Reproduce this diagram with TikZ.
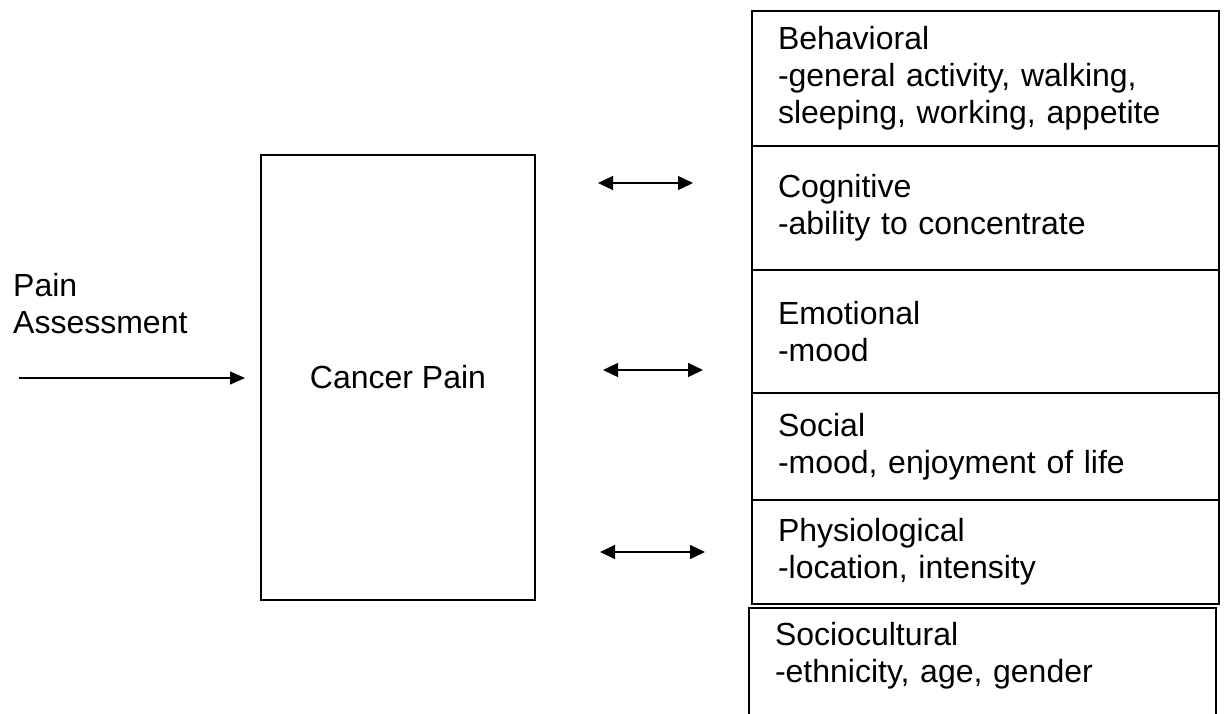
\documentclass[tikz,border=0pt]{standalone}
\usepackage{fontspec}
\setmainfont{Liberation Sans}
\usetikzlibrary{arrows.meta}
\newcommand{\bigtxt}{\fontsize{32}{37}\selectfont}

\begin{document}
\begin{tikzpicture}[x=1pt,y=-1pt,
	catbox/.style={draw,line width=2pt,outer sep=0pt,anchor=north west,align=left,inner xsep=26pt,text width=415pt,minimum width=467pt,minimum height=#1,font=\bigtxt},
	arr/.style={line width=1.3pt,-{Triangle[length=15pt,width=13pt]}},
	darr/.style={line width=1.3pt,{Triangle[length=15pt,width=14pt]}-{Triangle[length=15pt,width=14pt]}}]
	\useasboundingbox (0,0) rectangle (1227,713);
	\node[catbox=135pt] (beh) at (752,11) {Behavioral\\-general activity, walking,\\sleeping, working, appetite};
	\node[catbox=124pt] (cog) at (752,146) {Cognitive\\-ability to concentrate};
	\node[catbox=123pt] (emo) at (752,270) {Emotional\\-mood};
	\node[catbox=107pt] (soc) at (752,393) {Social\\-mood, enjoyment of life};
	\node[catbox=104pt,minimum width=465pt] (phy) at (752,500) {Physiological\\-location, intensity};
	\node[catbox=110pt,text depth=59pt] (scu) at (749,608) {Sociocultural\\-ethnicity, age, gender};
	\node[draw,line width=2pt,outer sep=0pt,anchor=north west,minimum width=274pt,minimum height=445pt,font=\bigtxt] (cancer) at (261,155) {Cancer Pain};
	\node[anchor=north west,align=left,inner sep=0pt,font=\bigtxt] (assess) at (13,273) {Pain\\Assessment};
	\coordinate (pin) at (19,378);
	\draw[arr,shorten >=16pt] (pin) -- (cancer.west |- pin);
	\coordinate (y1) at (0,183);
	\coordinate (y2) at (0,370);
	\coordinate (y3) at (0,552);
	\draw[darr,shorten <=63pt,shorten >=59pt] (cancer.east |- y1) -- (cog.west |- y1);
	\draw[darr,shorten <=68pt,shorten >=49pt] (cancer.east |- y2) -- (emo.west |- y2);
	\draw[darr,shorten <=65pt,shorten >=47pt] (cancer.east |- y3) -- (phy.west |- y3);
\end{tikzpicture}
\end{document}
